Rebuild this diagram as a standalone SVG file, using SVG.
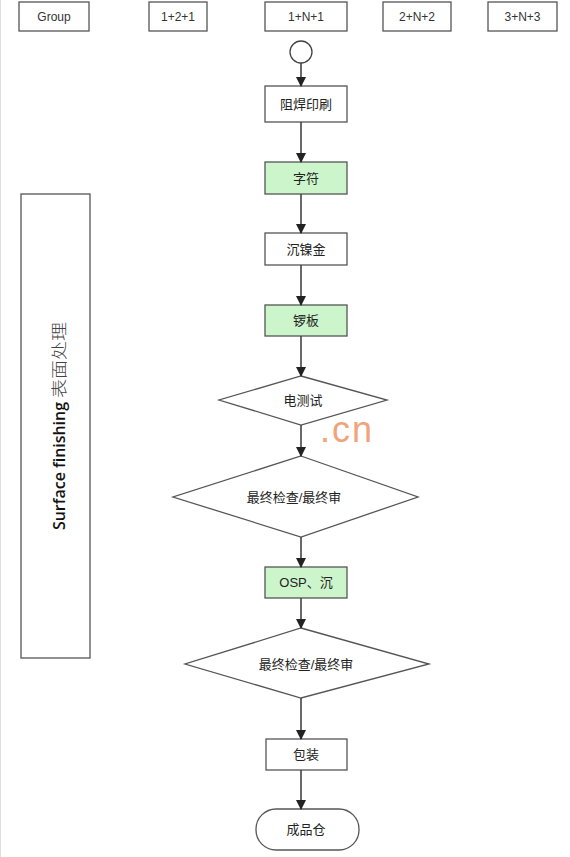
<svg xmlns="http://www.w3.org/2000/svg" width="570" height="857" viewBox="0 0 570 857">
<defs>
<style>
.box{fill:#ffffff;stroke:#555555;stroke-width:1.3}
.green{fill:#ccf5cc;stroke:#555555;stroke-width:1.3}
.lbl{font-family:"Liberation Sans","Noto Sans CJK SC",sans-serif;font-size:13px;fill:#222222;text-anchor:middle;dominant-baseline:central}
.hdr{font-family:"Liberation Sans","Noto Sans CJK SC",sans-serif;font-size:12px;fill:#333333;text-anchor:middle;dominant-baseline:central}
.conn line{stroke:#444444;stroke-width:1.6;marker-end:url(#arr)}
</style>
<marker id="arr" markerWidth="10" markerHeight="10" refX="9" refY="5" orient="auto" markerUnits="userSpaceOnUse">
<path d="M0,0 L10,5 L0,10 Z" fill="#222222"/>
</marker>
</defs>
<rect x="0" y="0" width="570" height="857" fill="#ffffff"/>
<line x1="0.5" y1="0" x2="0.5" y2="857" stroke="#dddddd" stroke-width="1"/>

<g id="hdr-group"><rect class="box" x="19" y="2" width="70" height="29"/><text class="hdr" x="54" y="16.5">Group</text></g>
<g id="hdr-121"><rect class="box" x="149" y="2" width="58" height="29"/><text class="hdr" x="178" y="16.5">1+2+1</text></g>
<g id="hdr-1n1"><rect class="box" x="265" y="2" width="82" height="29"/><text class="hdr" x="306" y="16.5">1+N+1</text></g>
<g id="hdr-2n2"><rect class="box" x="383" y="2" width="68" height="29"/><text class="hdr" x="417" y="16.5">2+N+2</text></g>
<g id="hdr-3n3"><rect class="box" x="488" y="2" width="69" height="29"/><text class="hdr" x="522.5" y="16.5">3+N+3</text></g>

<g id="phase"><rect class="box" x="21" y="194" width="69" height="464"/>
<g transform="rotate(-90)">
<text x="-530" y="65" textLength="128" lengthAdjust="spacingAndGlyphs" style="font-family:'Open Sans',sans-serif;font-weight:600;font-size:17px;fill:#111111">Surface finishing</text>
<text x="-398" y="65" textLength="76" lengthAdjust="spacingAndGlyphs" style="font-family:'Noto Sans CJK SC',sans-serif;font-weight:300;font-size:16px;fill:#444444">表面处理</text>
</g></g>

<g id="start"><circle cx="301" cy="52" r="11" fill="#ffffff" stroke="#444444" stroke-width="1.3"/></g>
<g id="n1"><rect class="box" x="265" y="86" width="82" height="36"/><text class="lbl" x="306" y="104">阻焊印刷</text></g>
<g id="n2"><rect class="green" x="265" y="162" width="82" height="32"/><text class="lbl" x="306" y="178">字符</text></g>
<g id="n3"><rect class="box" x="265" y="233" width="82" height="32"/><text class="lbl" x="306" y="249">沉镍金</text></g>
<g id="n4"><rect class="green" x="265" y="305" width="82" height="31"/><text class="lbl" x="306" y="320.5">锣板</text></g>
<g id="n5"><polygon class="box" points="301,376 387,400 301,425 219,400"/><text class="lbl" x="303" y="400">电测试</text></g>
<g id="n6"><polygon class="box" points="301,456 418,497 301,537 173,497"/><text class="lbl" x="294" y="497">最终检查/最终审</text></g>
<g id="n7"><rect class="green" x="265" y="567" width="82" height="31"/><text class="lbl" x="306" y="582.5">OSP、沉</text></g>
<g id="n8"><polygon class="box" points="301,628 429,664 301,698 185,664"/><text class="lbl" x="306" y="664">最终检查/最终审</text></g>
<g id="n9"><rect class="box" x="266" y="739" width="81" height="31"/><text class="lbl" x="306" y="754.5">包装</text></g>
<g id="n10"><rect class="box" x="256" y="809" width="103" height="41" rx="20" ry="20"/><text class="lbl" x="306" y="829.5">成品仓</text></g>

<g class="conn" id="connectors">
<line x1="301" y1="63" x2="301" y2="86"/>
<line x1="301" y1="122" x2="301" y2="162"/>
<line x1="301" y1="194" x2="301" y2="233"/>
<line x1="301" y1="265" x2="301" y2="305"/>
<line x1="301" y1="336" x2="301" y2="376"/>
<line x1="301" y1="425" x2="301" y2="456"/>
<line x1="301" y1="537" x2="301" y2="567"/>
<line x1="301" y1="598" x2="301" y2="628"/>
<line x1="301" y1="698" x2="301" y2="739"/>
<line x1="301" y1="770" x2="301" y2="809"/>
</g>

<text x="320" y="442" style="font-family:'Liberation Sans',sans-serif;font-size:36px;letter-spacing:2px;fill:#f2a27c">.cn</text>
</svg>
